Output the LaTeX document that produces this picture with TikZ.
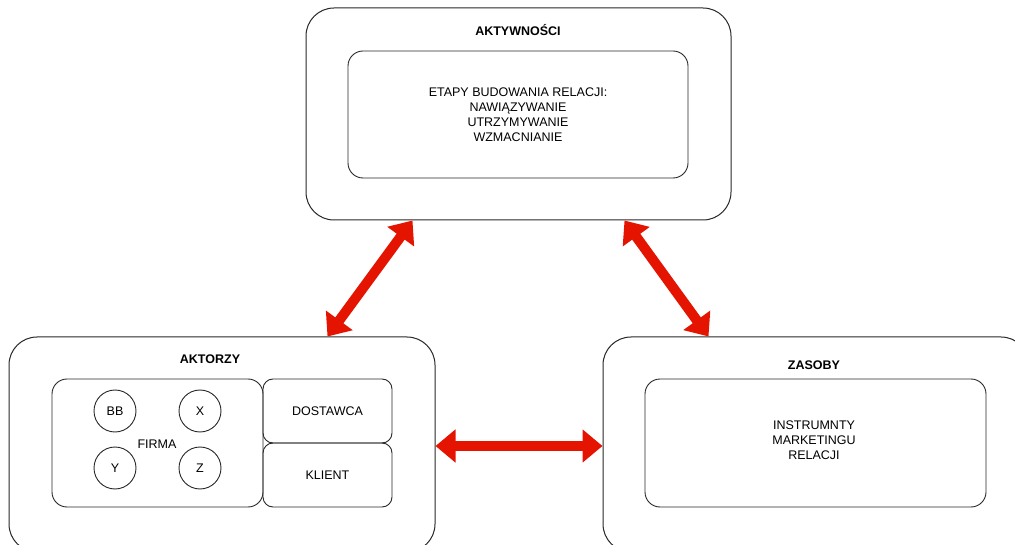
\documentclass[tikz,border=0pt]{standalone}
\usepackage{fontspec}
\setmainfont{Liberation Sans}
\usetikzlibrary{arrows.meta}
\definecolor{linkred}{RGB}{228,20,0}
\definecolor{edge}{RGB}{40,40,40}
\tikzset{
  outerbox/.style={draw=edge, line width=1pt, rounded corners=28pt, fill=white, inner sep=0pt},
  innerbox/.style={draw=edge, line width=0.9pt, rounded corners=15pt, inner sep=0pt},
  member/.style={draw=edge, line width=0.9pt, circle, minimum size=42pt, inner sep=0pt, font=\fontsize{12.5}{15}\selectfont},
  boxtitle/.style={font=\fontsize{12.5}{15}\selectfont\bfseries},
  boxtext/.style={font=\fontsize{12.5}{15}\selectfont, align=center, inner sep=0pt},
  link/.style={draw=linkred, line width=10pt,
    {Triangle[length=20pt,width=32pt]}-{Triangle[length=20pt,width=32pt]}, shorten <=0pt, shorten >=0pt}
}
\begin{document}
\begin{tikzpicture}[x=1pt,y=-1pt]
\useasboundingbox (0,0) rectangle (1015,545);
\clip (0,0) rectangle (1015,545);
\fill[white] (0,0) rectangle (1015,545);

% Activities
\node[outerbox, minimum width=425pt, minimum height=212pt] (aktyw) at (518.5,114) {};
\node[boxtitle] (aktywT) at (518,30) {AKTYWNOŚCI};
\node[innerbox, minimum width=340pt, minimum height=127pt] (etapy) at (518,114.5) {};
\node[boxtext] (etapyT) at (518,115) {ETAPY BUDOWANIA RELACJI:\\NAWIĄZYWANIE\\UTRZYMYWANIE\\WZMACNIANIE};

% Actors
\node[outerbox, minimum width=426pt, minimum height=215pt] (aktorzy) at (222,444.5) {};
\node[boxtitle] (aktorzyT) at (210,359) {AKTORZY};
\node[innerbox, minimum width=211pt, minimum height=128pt] (firma) at (157.5,443) {};
\node[boxtext] (firmaT) at (157,444) {FIRMA};
\node[member] (bb) at (115,411) {BB};
\node[member] (x) at (200,411) {X};
\node[member] (y) at (115,468) {Y};
\node[member] (z) at (200,468) {Z};
\node[innerbox, rounded corners=10pt, minimum width=129pt, minimum height=64pt, boxtext] (dost) at (327.5,411) {DOSTAWCA};
\node[innerbox, rounded corners=10pt, minimum width=129pt, minimum height=64pt, boxtext] (klient) at (327.5,475) {KLIENT};

% Resources
\node[outerbox, minimum width=426pt, minimum height=215pt] (zasoby) at (816,444.5) {};
\node[boxtitle] (zasobyT) at (814,365) {ZASOBY};
\node[innerbox, minimum width=341pt, minimum height=128pt] (instr) at (815.5,443) {};
\node[boxtext] (instrT) at (814,440) {INSTRUMNTY\\MARKETINGU\\RELACJI};

% Two-way links between the three areas
\draw[link] ([xshift=319pt]aktorzy.north west) -- ([xshift=107pt]aktyw.south west);
\draw[link] ([xshift=319pt]aktyw.south west) -- ([xshift=106pt]zasoby.north west);
\draw[link] ([yshift=-1.5pt]aktorzy.east) -- ([yshift=-1.5pt]zasoby.west);
\end{tikzpicture}
\end{document}
